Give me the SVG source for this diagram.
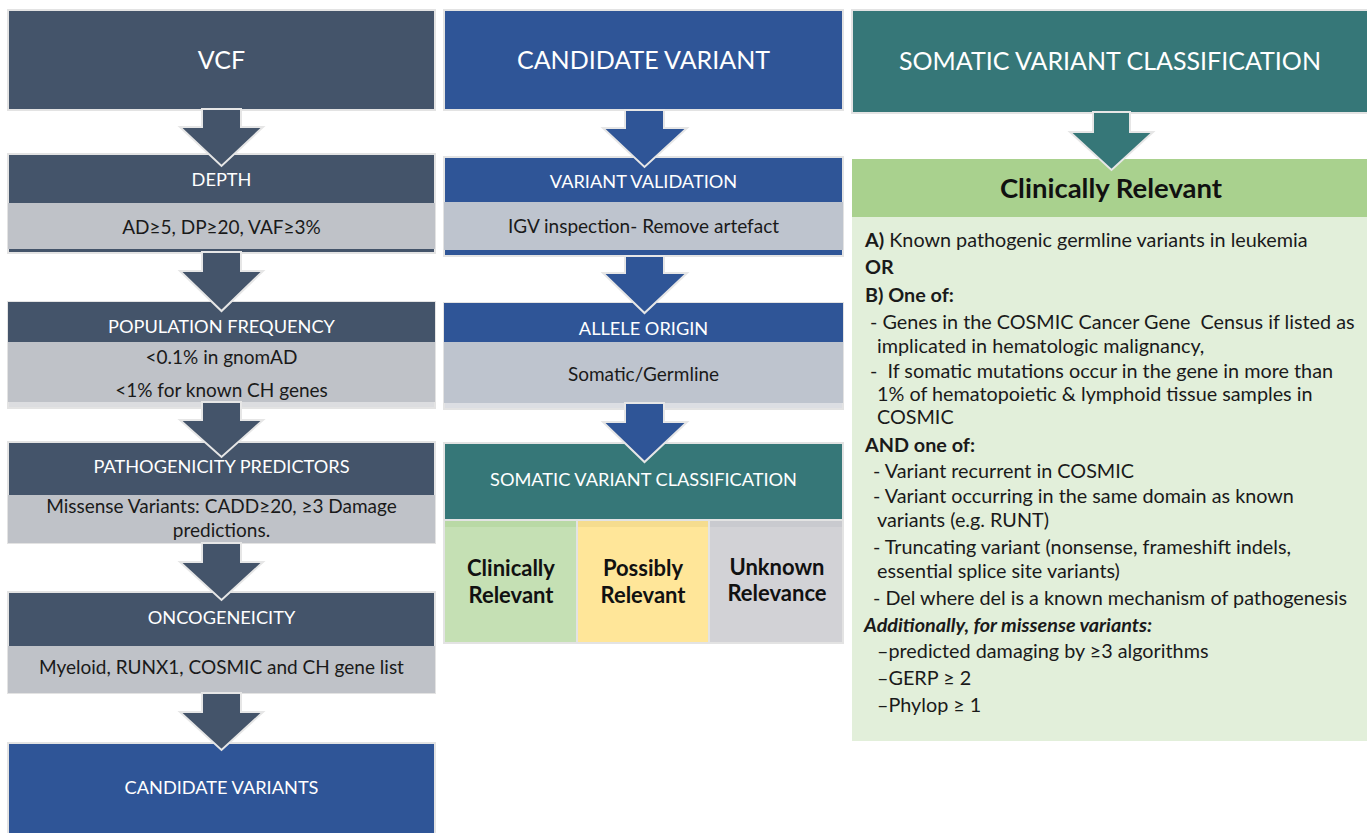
<svg xmlns="http://www.w3.org/2000/svg" width="1367" height="833" viewBox="0 0 1367 833">
<defs>
<style>
.dark{fill:#44546a}
.blue{fill:#2f5597}
.teal{fill:#367778}
.band{fill:#bfc2c8}
.bandb{fill:#bec4ce}
.frame{stroke:#e3e3e3;stroke-width:2}
.arrow{stroke:#e6e6e6;stroke-width:2;stroke-linejoin:miter}
text{font-family:Lato,"Liberation Sans",sans-serif}
.big{fill:#fff;font-size:25px;text-anchor:middle}
.hdr{fill:#fff;font-size:18.2px;text-anchor:middle}
.body{fill:#1a1a1a;font-size:19px;text-anchor:middle}
.cell{fill:#111;font-size:22px;font-weight:bold;text-anchor:middle}
.rt{fill:#1a1a1a;font-size:19.8px}
.b{font-weight:bold}
</style>
</defs>
<rect width="1367" height="833" fill="#fff"/>

<!-- LEFT COLUMN -->
<g id="vcf">
<rect class="dark frame" x="8" y="10" width="427" height="100"/>
<text class="big" x="221.5" y="69">VCF</text>
</g>
<g id="depth">
<rect class="dark frame" x="8" y="154" width="427" height="99"/>
<rect class="band" x="8" y="203" width="427" height="46"/>
<text class="hdr" x="221.5" y="186">DEPTH</text>
<text class="body" x="221.5" y="234">AD≥5, DP≥20, VAF≥3%</text>
</g>
<g id="population-frequency">
<rect class="frame" fill="#dcdde0" x="8" y="302" width="427" height="106"/>
<rect class="dark" x="8" y="302" width="427" height="40"/>
<rect class="band" x="8" y="342" width="427" height="60"/>
<text class="hdr" x="221.5" y="333">POPULATION FREQUENCY</text>
<text class="body" x="221.5" y="364">&lt;0.1% in gnomAD</text>
<text class="body" x="221.5" y="397">&lt;1% for known CH genes</text>
</g>
<g id="pathogenicity-predictors">
<rect class="dark frame" x="8" y="442" width="427" height="101"/>
<rect class="band" x="8" y="495" width="427" height="48"/>
<text class="hdr" x="221.5" y="473">PATHOGENICITY PREDICTORS</text>
<text class="body" x="221.5" y="513">Missense Variants: CADD≥20, ≥3 Damage</text>
<text class="body" x="221.5" y="537">predictions.</text>
</g>
<g id="oncogeneicity">
<rect class="dark frame" x="8" y="592" width="427" height="101"/>
<rect class="band" x="8" y="646" width="427" height="47"/>
<text class="hdr" x="221.5" y="624">ONCOGENEICITY</text>
<text class="body" x="221.5" y="674">Myeloid, RUNX1, COSMIC and CH gene list</text>
</g>
<g id="candidate-variants">
<rect class="blue frame" x="8" y="743" width="427" height="95"/>
<text class="hdr" x="221.5" y="794">CANDIDATE VARIANTS</text>
</g>

<!-- MIDDLE COLUMN -->
<g id="candidate-variant">
<rect class="blue frame" x="444" y="10" width="399" height="100"/>
<text class="big" x="643.5" y="69">CANDIDATE VARIANT</text>
</g>
<g id="variant-validation">
<rect class="blue frame" x="444" y="157" width="399" height="99"/>
<rect class="bandb" x="444" y="202" width="399" height="48"/>
<text class="hdr" x="643.5" y="188">VARIANT VALIDATION</text>
<text class="body" x="643.5" y="233">IGV inspection- Remove artefact</text>
</g>
<g id="allele-origin">
<rect class="frame" fill="#dcdee3" x="444" y="303" width="399" height="106"/>
<rect class="blue" x="444" y="303" width="399" height="39"/>
<rect class="bandb" x="444" y="342" width="399" height="61"/>
<text class="hdr" x="643.5" y="335">ALLELE ORIGIN</text>
<text class="body" x="643.5" y="381">Somatic/Germline</text>
</g>
<g id="somatic-classification-mid">
<rect class="teal frame" x="444" y="443" width="399" height="77"/>
<text class="hdr" x="643.5" y="486">SOMATIC VARIANT CLASSIFICATION</text>
</g>
<g id="cell-clinically">
<rect fill="#c5e0b4" x="444" y="520" width="133" height="123" class="frame"/>
<rect fill="#b9d9a5" x="445" y="521" width="131" height="6"/>
<text class="cell" x="511" y="576">Clinically</text>
<text class="cell" x="511" y="603">Relevant</text>
</g>
<g id="cell-possibly">
<rect fill="#ffe699" x="577" y="520" width="132" height="123" class="frame"/>
<rect fill="#f5dc8e" x="578" y="521" width="130" height="6"/>
<text class="cell" x="643" y="576">Possibly</text>
<text class="cell" x="643" y="603">Relevant</text>
</g>
<g id="cell-unknown">
<rect fill="#d2d2d6" x="709" y="520" width="134" height="123" class="frame"/>
<rect fill="#c9cacf" x="710" y="521" width="132" height="6"/>
<text class="cell" x="777" y="575">Unknown</text>
<text class="cell" x="777" y="601">Relevance</text>
</g>

<!-- RIGHT COLUMN -->
<g id="somatic-classification-top">
<rect class="teal frame" x="852" y="10" width="520" height="103"/>
<text class="big" x="1110" y="70">SOMATIC VARIANT CLASSIFICATION</text>
</g>
<g id="clinically-relevant">
<rect fill="#e2efda" x="852" y="159" width="520" height="582"/>
<rect fill="#a9d18e" x="852" y="159" width="520" height="58"/>
<text x="1111" y="198" text-anchor="middle" style="font-size:27.5px;font-weight:bold;fill:#111">Clinically Relevant</text>
<text class="rt" x="865" y="247"><tspan class="b">A)</tspan> Known pathogenic germline variants in leukemia</text>
<text class="rt b" x="865" y="274">OR</text>
<text class="rt b" x="865" y="302">B) One of:</text>
<text class="rt" x="870" y="329" xml:space="preserve">- Genes in the COSMIC Cancer Gene  Census if listed as</text>
<text class="rt" x="877" y="353">implicated in hematologic malignancy,</text>
<text class="rt" x="870" y="378" xml:space="preserve">-  If somatic mutations occur in the gene in more than</text>
<text class="rt" x="877" y="401">1% of hematopoietic &amp; lymphoid tissue samples in</text>
<text class="rt" x="877" y="424">COSMIC</text>
<text class="rt b" x="865" y="452">AND one of:</text>
<text class="rt" x="873" y="478">- Variant recurrent in COSMIC</text>
<text class="rt" x="873" y="503">- Variant occurring in the same domain as known</text>
<text class="rt" x="877" y="527">variants (e.g. RUNT)</text>
<text class="rt" x="873" y="554">- Truncating variant (nonsense, frameshift indels,</text>
<text class="rt" x="877" y="578">essential splice site variants)</text>
<text class="rt" x="873" y="605">- Del where del is a known mechanism of pathogenesis</text>
<text class="rt b" x="864" y="632" font-style="italic">Additionally, for missense variants:</text>
<text class="rt" x="877" y="658">–predicted damaging by ≥3 algorithms</text>
<text class="rt" x="877" y="685">–GERP ≥ 2</text>
<text class="rt" x="877" y="712">–Phylop ≥ 1</text>
</g>

<!-- CONNECTORS -->
<g id="connectors">
<polygon class="dark arrow" points="202,109 241,109 241,127 263,127 221.5,166 180,127 202,127"/>
<polygon class="dark arrow" points="202,252 241,252 241,271 263,271 221.5,311 180,271 202,271"/>
<polygon class="dark arrow" points="202,402 241,402 241,420 263,420 221.5,457 180,420 202,420"/>
<polygon class="dark arrow" points="202,543 241,543 241,562 263,562 221.5,600 180,562 202,562"/>
<polygon class="dark arrow" points="202,693 241,693 241,712 263,712 221.5,750 180,712 202,712"/>
<polygon class="blue arrow" points="625,110 664,110 664,128 687,128 644.5,167 603,128 625,128"/>
<polygon class="blue arrow" points="625,256 664,256 664,273 687,273 644.5,313 603,273 625,273"/>
<polygon class="blue arrow" points="625,403 664,403 664,422 687,422 644.5,462 603,422 625,422"/>
<polygon class="teal arrow" points="1093,112 1130,112 1130,132 1153,132 1111.5,170 1070,132 1093,132"/>
</g>
</svg>
